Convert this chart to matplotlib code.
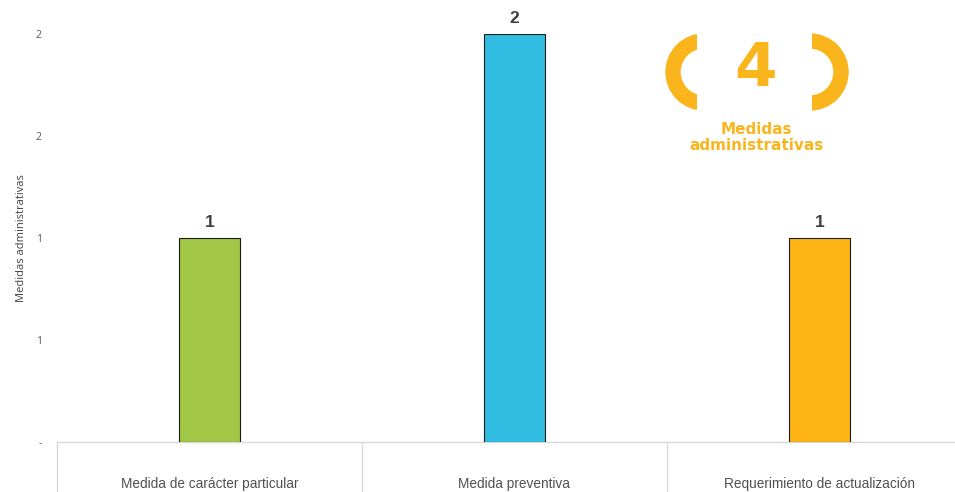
import matplotlib
matplotlib.use("Agg")
import matplotlib.pyplot as plt
from matplotlib.patches import Wedge, Rectangle

# data
categories = ["Medida de carácter particular", "Medida preventiva",
              "Requerimiento de actualización"]
values = [1, 2, 1]
ytick_values = [0, 0.5, 1, 1.5, 2]
ytick_labels = ["-", "1", "1", "2", "2"]
bar_colors = ["#A2C645", "#31BDE1", "#FDB515"]
badge_color = "#F9B51B"

W, H = 955, 492
fig = plt.figure(figsize=(W / 100, H / 100), dpi=100)

# main axes (third category runs past the right edge, like the original)
ax = fig.add_axes([57 / W, 50 / H, 3 * 305 / W, (442 - 34) / H])
x = list(range(len(categories)))
ax.bar(x, values, width=0.2, color=bar_colors, edgecolor="#1a1a1a", linewidth=0.8, zorder=3)
for xi, v in zip(x, values):
    ax.text(xi, v + 0.04, str(v), ha="center", va="bottom", fontsize=12.5,
            fontweight="bold", color="#404040", family="Liberation Sans")

ax.set_xlim(-0.5, len(categories) - 0.5)
ax.set_ylim(0, 2)
for s in ["top", "right", "left"]:
    ax.spines[s].set_visible(False)
ax.spines["bottom"].set_color("#D9D9D9")
ax.spines["bottom"].set_linewidth(1)

ax.set_yticks(ytick_values)
ax.set_yticklabels(ytick_labels, fontsize=7.5, color="#595959", family="Open Sans")
ax.tick_params(axis="y", length=0, pad=11)
ax.set_ylabel("Medidas administrativas", fontsize=8, color="#404040",
              family="Open Sans", labelpad=6)

ax.set_xticks(x)
ax.set_xticklabels(categories, fontsize=9.8, color="#505050",
                   family=["Liberation Sans Narrow", "Liberation Sans"])
ax.tick_params(axis="x", length=0, pad=25)

# category separators below the axis
for b in range(len(categories)):
    ax.plot([b - 0.5, b - 0.5], [0, -50 / 408 * 2], color="#D9D9D9", lw=1,
            clip_on=False, transform=ax.transData)

# badge overlay in pixel coordinates
ov = fig.add_axes([0, 0, 1, 1])
ov.set_xlim(0, W)
ov.set_ylim(H, 0)
ov.axis("off")

left = Wedge((704, 72), 38, 90, 270, width=14, color=badge_color)
ov.add_patch(left)
left.set_clip_path(Rectangle((600, 0), 97, 200, transform=ov.transData))
right = Wedge((810, 72), 38, -90, 90, width=14, color=badge_color)
ov.add_patch(right)
right.set_clip_path(Rectangle((812, 0), 100, 200, transform=ov.transData))

ov.text(755, 69, str(sum(values)), ha="center", va="center", fontsize=44,
        fontweight="bold", color=badge_color, family="DejaVu Sans")
ov.text(756, 129, "Medidas", ha="center", va="center", fontsize=11,
        fontweight="bold", color=badge_color, family="DejaVu Sans")
ov.text(756, 145, "administrativas", ha="center", va="center", fontsize=11,
        fontweight="bold", color=badge_color, family="DejaVu Sans")

fig.savefig("out.png", dpi=100)
